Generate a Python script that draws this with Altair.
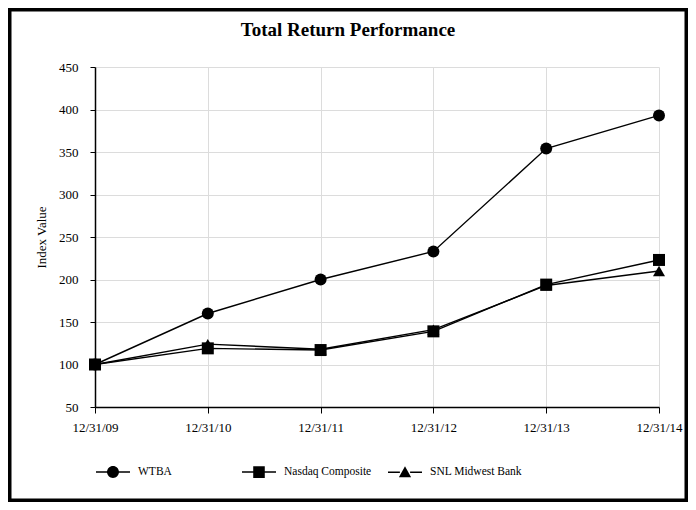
import altair as alt
import pandas as pd

dates = ["12/31/09", "12/31/10", "12/31/11", "12/31/12", "12/31/13", "12/31/14"]
series_names = ["WTBA", "Nasdaq Composite", "SNL Midwest Bank"]
wtba = [100, 160, 200, 233, 354, 393]
nasdaq = [100, 119, 117, 139, 194, 223]
snl = [100, 124, 118, 141, 193, 210]
y_ticks = [50, 100, 150, 200, 250, 300, 350, 400, 450]
title_text = "Total Return Performance"

rows = []
for name, vals in zip(series_names, [wtba, nasdaq, snl]):
    for d, v in zip(dates, vals):
        rows.append({"date": d, "series": name, "value": v})
df = pd.DataFrame(rows)

FONT = "Liberation Serif"
W, H = 564, 340
PADL, PADT, PADR, PADB = 87, 59, 29, 95

x_enc = alt.X(
    "date:O", sort=dates,
    scale=alt.Scale(type="point", padding=0),
    axis=alt.Axis(title=None, labelAngle=0, grid=True, gridColor="#dcdcdc",
                  domainColor="black", domainWidth=1.5, tickColor="black",
                  tickSize=6, labelPadding=8, labelFontSize=13, labelFont=FONT,
                  labelColor="black"),
)
y_enc = alt.Y(
    "value:Q",
    scale=alt.Scale(domain=[50, 450], nice=False, zero=False),
    axis=alt.Axis(title="Index Value", values=y_ticks, grid=True, gridColor="#dcdcdc",
                  domainColor="black", domainWidth=1.5, tickColor="black",
                  tickSize=5, labelPadding=12, labelFontSize=13, labelFont=FONT,
                  labelColor="black", titleFont=FONT, titleFontSize=13,
                  titleFontWeight="normal", titleColor="black", titlePadding=10),
)

base = alt.Chart(df)

lines = base.mark_line(color="black", strokeWidth=1.4).encode(
    x=x_enc, y=y_enc, detail="series:N"
)

points = base.mark_point(filled=True, size=144, color="black", opacity=1).encode(
    x=x_enc, y=y_enc,
    shape=alt.Shape("series:N",
                    scale=alt.Scale(domain=series_names,
                                    range=["circle", "square", "triangle-up"]),
                    legend=None),
)

# legend glyphs: a short horizontal bar (drawn as thin filled rectangles) plus the marker
seg = "M-1,-0.045H-0.3V0.045H-1ZM0.3,-0.045H1V0.045H0.3Z"
legend_paths = [
    seg + "M0.35,0A0.35,0.35,0,1,1,-0.35,0A0.35,0.35,0,1,1,0.35,0Z",
    seg + "M-0.34,-0.34H0.34V0.34H-0.34Z",
    seg + "M0,-0.36L0.36,0.3H-0.36Z",
]

legend_layer = base.mark_point(filled=True, color="black", opacity=0).encode(
    x=x_enc, y=y_enc,
    shape=alt.Shape("series:N",
                    scale=alt.Scale(domain=series_names, range=legend_paths),
                    legend=alt.Legend(title=None, orient="none", legendX=1, legendY=388,
                                      direction="horizontal", columns=3,
                                      gridAlign="all", columnPadding=12,
                                      symbolSize=1156, symbolStrokeWidth=0,
                                      symbolFillColor="black",
                                      symbolOpacity=1, labelOffset=8,
                                      labelFont=FONT, labelFontSize=11.5,
                                      labelColor="black")),
)

title = alt.Chart(alt.Data(values=[{"t": title_text}])).mark_text(
    font=FONT, fontSize=19, fontWeight="bold", color="black",
    align="center", baseline="alphabetic"
).encode(text="t:N", x=alt.value(253), y=alt.value(-31))

border = alt.Chart(alt.Data(values=[{}])).mark_rect(
    fill="transparent", stroke="black", strokeWidth=7
).encode(
    x=alt.value(-PADL), x2=alt.value(W + PADR),
    y=alt.value(-PADT), y2=alt.value(H + PADB),
)

chart = alt.layer(lines, points, legend_layer, title, border).resolve_scale(
    shape="independent"
).properties(
    width=W, height=H,
    autosize=alt.AutoSizeParams(type="none"),
    padding={"left": PADL, "top": PADT, "right": PADR, "bottom": PADB},
    background="white",
).configure_view(strokeWidth=0).configure_legend(labelFont=FONT)

chart.save("out.html", embed_options={"renderer": "svg", "actions": False})
